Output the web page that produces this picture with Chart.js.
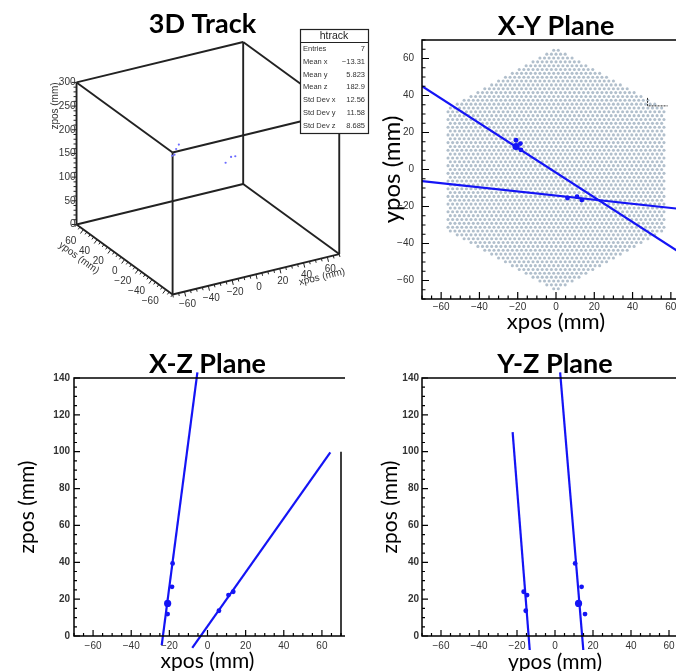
<!DOCTYPE html>
<html><head><meta charset="utf-8">
<script src="https://cdn.jsdelivr.net/npm/chart.js@4.4.0/dist/chart.umd.min.js"></script>
<style>
html,body{margin:0;padding:0;background:#fff;}
#wrap{position:relative;width:676px;height:671px;overflow:hidden;background:#fff;}
canvas{position:absolute;}
</style></head><body>
<div id="wrap">
<canvas id="c3d" width="405" height="335" style="left:0;top:0;"></canvas>
<canvas id="cxy" width="380" height="340" style="left:340px;top:0;"></canvas>
<canvas id="cxz" width="345" height="345" style="left:0;top:340px;"></canvas>
<canvas id="cyz" width="380" height="345" style="left:345px;top:340px;"></canvas>
</div>
<script>
// ---------------- data ----------------
const hitX = [-18.3, -18.6, -20.9, -20.9, 11.0, 13.5, 6.0];
const hitY = [10.6, 14.0, 12.4, 15.8, -14.7, -16.5, -15.4];
const hitZ = [39.4, 26.7, 17.7, 11.9, 22.2, 24.0, 13.7];
const trackZ0 = 160.5; // z offset of the hits in the 3D view

const xyTrackX = [[-70, 70], [-70, 70]];
const xyTrackY = [[45.0, -48.4], [-6.3, -21.9]];
const xzTrackX = [[-24.0, -5.3], [-8.0, 64.4]];
const xzTrackZ = [[-4.9, 143.1], [-6.5, 99.7]];
const yzTrackY = [[2.7, 14.9], [-22.3, -13.3]];
const yzTrackZ = [[143.1, -7.6], [110.6, -7.6]];

const markX = [47.8, 47.8, 58.3];
const markY = [38.7, 34.4, 34.4];

const planeTicks = [-60, -40, -20, 0, 20, 40, 60];
const zTicks = [0, 20, 40, 60, 80, 100, 120, 140];
const x3dTicks = [-60, -40, -20, 0, 20, 40, 60];
const y3dTicks = [-60, -40, -20, 0, 20, 40, 60];
const z3dTicks = [0, 50, 100, 150, 200, 250, 300];
const range3X = [-70, 70], range3Y = [-70, 70], range3Z = [0, 300];

const statName = 'htrack';
const statLabels = ['Entries', 'Mean x', 'Mean y', 'Mean z', 'Std Dev x', 'Std Dev y', 'Std Dev z'];
const statValues = ['7', '\u221213.31', '5.823', '182.9', '12.56', '11.58', '8.685'];

// detector geometry (hexagonal pixel array)
const cellPitch = 2.4, hexApothem = 57.5;

// ---------------- helpers ----------------
const BLUE = '#1414f5';
const fmt = v => String(v).replace('-', '\u2212');
const pts = (xs, ys) => xs.map((x, i) => ({x, y: ys[i]}));

const hexCells = [];
(function(){
  const s3 = Math.sqrt(3), rowStep = cellPitch * s3 / 2;
  const nRows = Math.ceil(hexApothem * 2 / s3 / rowStep);
  for (let j = -nRows; j <= nRows; j++) {
    const off = (Math.abs(j) % 2) * cellPitch / 2;
    for (let i = -40; i <= 40; i++) {
      const x = i * cellPitch + off, y = j * rowStep, e = 0.01;
      if (Math.abs(x) <= hexApothem + e && Math.abs(x * 0.5 + y * s3 / 2) <= hexApothem + e &&
          Math.abs(x * 0.5 - y * s3 / 2) <= hexApothem + e) hexCells.push({x, y});
    }
  }
})();

// ROOT-like frame with inward ticks
const rootFrame = {
  id: 'rootFrame',
  afterDraw(chart, args, o) {
    if (!o || !o.enabled) return;
    const {ctx, chartArea: a, scales: {x, y}} = chart;
    ctx.save();
    ctx.strokeStyle = '#000';
    ctx.lineWidth = o.lineWidth || 1.5;
    ctx.beginPath();
    ctx.moveTo(a.right + 20, a.top); ctx.lineTo(a.left, a.top);
    ctx.lineTo(a.left, a.bottom); ctx.lineTo(a.right + 20, a.bottom);
    if (o.rightTo !== undefined) {
      ctx.moveTo(a.right, a.bottom); ctx.lineTo(a.right, y.getPixelForValue(o.rightTo));
    }
    ctx.stroke();
    ctx.lineWidth = 1.2;
    ctx.beginPath();
    const tk = (scale, minor, major, horiz) => {
      for (let k = Math.ceil(scale.min / minor); k * minor <= scale.max + 1e-9; k++) {
        const v = k * minor, len = (Math.abs(v % major) < 1e-9) ? o.majorLen : o.minorLen;
        const p = scale.getPixelForValue(v);
        if (horiz) { ctx.moveTo(p, a.bottom); ctx.lineTo(p, a.bottom - len); }
        else { ctx.moveTo(a.left, p); ctx.lineTo(a.left + len, p); }
      }
    };
    tk(x, o.xMinor, o.xMajor, true);
    tk(y, o.yMinor, o.yMajor, false);
    ctx.stroke();
    ctx.restore();
  }
};

// 3D projection (front-bottom corner, axis vectors in panel pixels)
const P0 = {u: 172, v: 298}, EX = {u: 170, v: -41}, EY = {u: -98, v: -71}, EZ = {u: 0, v: -144};
function proj(x, y, z) {
  const a = (x - range3X[0]) / (range3X[1] - range3X[0]);
  const b = (y - range3Y[0]) / (range3Y[1] - range3Y[0]);
  const c = (z - range3Z[0]) / (range3Z[1] - range3Z[0]);
  return {x: P0.u + a * EX.u + b * EY.u + c * EZ.u, y: P0.v + a * EX.v + b * EY.v + c * EZ.v};
}

const draw3d = {
  id: 'draw3d',
  afterDraw(chart, args, o) {
    if (!o || !o.enabled) return;
    const ctx = chart.ctx, sx = chart.scales.x, sy = chart.scales.y;
    const P = (x, y, z) => { const p = proj(x, y, z); return [sx.getPixelForValue(p.x), sy.getPixelForValue(p.y)]; };
    ctx.save();
    ctx.strokeStyle = '#222'; ctx.lineWidth = 1;
    ctx.fillStyle = '#333';
    ctx.font = '10px "Liberation Sans", Arial, sans-serif';
    const [x0, x1] = range3X, [y0, y1] = range3Y, [z0, z1] = range3Z;
    ctx.beginPath();
    for (let z = z0; z <= z1; z += 10) {
      const [px, py] = P(x0, y1, z), len = z % 50 === 0 ? 5 : 3;
      ctx.moveTo(px, py); ctx.lineTo(px - len, py);
    }
    const nx = [41 / 174.9, 170 / 174.9];
    for (let x = x0; x <= x1; x += 5) {
      const [px, py] = P(x, y0, z0), len = x % 20 === 0 ? 5 : 3;
      ctx.moveTo(px, py); ctx.lineTo(px + nx[0] * len, py + nx[1] * len);
    }
    const ny = [-0.587, 0.81];
    for (let y = y0; y <= y1; y += 5) {
      const [px, py] = P(x0, y, z0), len = y % 20 === 0 ? 5 : 3;
      ctx.moveTo(px, py); ctx.lineTo(px + ny[0] * len, py + ny[1] * len);
    }
    ctx.stroke();
    ctx.textBaseline = 'middle';
    ctx.textAlign = 'right';
    z3dTicks.forEach(z => { const [px, py] = P(x0, y1, z); ctx.fillText(fmt(z), px - 1, py); });
    y3dTicks.forEach(y => { const [px, py] = P(x0, y, z0); ctx.fillText(fmt(y), px - 7, py + 12); });
    ctx.textAlign = 'center';
    x3dTicks.forEach(x => { const [px, py] = P(x, y0, z0); ctx.fillText(fmt(x), px + 3, py + 12.5); });
    const rotText = (t, cx, cy, ang) => { ctx.save(); ctx.translate(cx, cy); ctx.rotate(ang); ctx.fillText(t, 0, 0); ctx.restore(); };
    rotText('zpos (mm)', 55, 106, -Math.PI / 2);
    rotText('xpos (mm)', 322, 277, Math.atan2(-41, 170));
    rotText('ypos (mm)', 79, 258, Math.atan2(71, 98));
    // stats box
    const bx = 300, by = 29, bw = 68, bh = 104;
    ctx.fillStyle = '#fff'; ctx.fillRect(bx, by, bw, bh);
    ctx.strokeStyle = '#222'; ctx.lineWidth = 1.2; ctx.strokeRect(bx + 0.5, by + 0.5, bw, bh);
    ctx.beginPath(); ctx.moveTo(bx, by + 13.5); ctx.lineTo(bx + bw, by + 13.5); ctx.stroke();
    ctx.fillStyle = '#222';
    ctx.font = '10.5px "Liberation Sans", Arial, sans-serif';
    ctx.textAlign = 'center';
    ctx.fillText(statName, bx + bw / 2, by + 7);
    ctx.font = '7.5px "Liberation Sans", Arial, sans-serif';
    ctx.fillStyle = '#333';
    statLabels.forEach((l, i) => {
      const yy = by + 20 + i * 12.8;
      ctx.textAlign = 'left'; ctx.fillText(l, bx + 3, yy);
      ctx.textAlign = 'right'; ctx.fillText(statValues[i], bx + bw - 3, yy);
    });
    ctx.restore();
  }
};

Chart.register(rootFrame, draw3d);

const baseOpts = () => ({
  responsive: false, animation: false, events: [],
  plugins: {legend: {display: false}, tooltip: {enabled: false}}
});

const tickFont = (bold) => ({family: '"Liberation Sans", Arial, sans-serif', size: 10, weight: bold ? 'bold' : 'normal'});
const titleFont = {family: 'Lato', weight: 'bold', size: 27, lineHeight: 1};

function planeScale(ticks, min, max, fitFn, labelPad, title, titleSize, titlePad, bold) {
  return {
    type: 'linear', min, max,
    afterBuildTicks: s => { s.ticks = ticks.map(v => ({value: v})); },
    afterFit: fitFn,
    grid: {display: false, drawTicks: false},
    border: {display: false},
    ticks: {padding: labelPad, font: tickFont(bold), color: '#333', callback: fmt, maxRotation: 0, autoSkip: false},
    title: {display: true, text: title, font: {family: 'Lato', size: titleSize, lineHeight: 1}, color: '#000', padding: titlePad}
  };
}

function lineSet(xs, ys, clip) {
  return {data: pts(xs, ys), showLine: true, borderColor: BLUE, borderWidth: 2.2, pointRadius: 0, order: 2, clip: clip};
}
function hitSet(xs, ys) {
  return {data: pts(xs, ys), showLine: false, backgroundColor: BLUE, borderWidth: 0,
          pointRadius: c => c.dataIndex === 2 ? 3.6 : 2.4, order: 1, clip: false};
}

// ---------------- 3D Track ----------------
(function(){
  const edges = [];
  const X = range3X, Y = range3Y, Z = range3Z;
  const c = (i, j, k) => proj(X[i], Y[j], Z[k]);
  for (let j = 0; j < 2; j++) for (let k = 0; k < 2; k++) edges.push([c(0, j, k), c(1, j, k)]);
  for (let i = 0; i < 2; i++) for (let k = 0; k < 2; k++) edges.push([c(i, 0, k), c(i, 1, k)]);
  for (let i = 0; i < 2; i++) for (let j = 0; j < 2; j++) edges.push([c(i, j, 0), c(i, j, 1)]);
  const ds = edges.map(e => ({data: e, showLine: true, borderColor: '#222', borderWidth: 1.9, pointRadius: 0, clip: false, order: 3}));
  ds.push({data: hitX.map((x, i) => proj(x, hitY[i], hitZ[i] + trackZ0)), backgroundColor: '#6b6bff',
           borderWidth: 0, pointRadius: 1.1, order: 0, clip: false});
  const o = baseOpts();
  o.layout = {padding: 0};
  o.plugins.title = {display: true, text: '3D Track', fullSize: false, font: titleFont, color: '#000', padding: {top: 11, bottom: 2}};
  o.plugins.draw3d = {enabled: true};
  o.scales = {x: {type: 'linear', display: false, min: 0, max: 405},
              y: {type: 'linear', display: false, min: 40, max: 335, reverse: true}};
  new Chart(document.getElementById('c3d'), {type: 'scatter', data: {datasets: ds}, options: o});
})();

// ---------------- X-Y Plane ----------------
(function(){
  const ds = [
    lineSet(xyTrackX[0], xyTrackY[0], true),
    lineSet(xyTrackX[1], xyTrackY[1], true),
    hitSet(hitX, hitY),
    {data: pts(markX, markY), showLine: true, borderColor: '#333', borderWidth: 1, borderDash: [2, 1], pointRadius: 0, order: 2},
    {data: hexCells, backgroundColor: '#b1bfcc', borderWidth: 0, pointRadius: 1.55, order: 10}
  ];
  const o = baseOpts();
  o.layout = {padding: {left: 0, right: 30, top: 0, bottom: 0}};
  o.plugins.title = {display: true, text: 'X-Y Plane', fullSize: false, font: titleFont, color: '#000', padding: {top: 13, bottom: 0}};
  o.plugins.rootFrame = {enabled: true, majorLen: 7, minorLen: 3.5, xMinor: 5, xMajor: 20, yMinor: 5, yMajor: 20};
  o.scales = {
    x: planeScale(planeTicks, -70, 70, s => { s.height = 41; }, 2, 'xpos (mm)', 22, {top: 0, bottom: 7}, false),
    y: planeScale(planeTicks, -70, 70, s => { s.width = 82; }, 8, 'ypos (mm)', 24, {top: 40, bottom: 0}, false)
  };
  new Chart(document.getElementById('cxy'), {type: 'scatter', data: {datasets: ds}, options: o});
})();

// ---------------- X-Z Plane ----------------
(function(){
  const ds = [
    lineSet(xzTrackX[0], xzTrackZ[0], false),
    lineSet(xzTrackX[1], xzTrackZ[1], false),
    hitSet(hitX, hitZ)
  ];
  const o = baseOpts();
  o.layout = {padding: {left: 0, right: 4, top: 0, bottom: 0}};
  o.plugins.title = {display: true, text: 'X-Z Plane', fullSize: false, font: titleFont, color: '#000', padding: {top: 11, bottom: 0}};
  o.plugins.rootFrame = {enabled: true, majorLen: 6, minorLen: 3, xMinor: 5, xMajor: 20, yMinor: 5, yMajor: 20, rightTo: 100};
  o.scales = {
    x: planeScale(planeTicks, -70, 70, s => { s.height = 49; }, 4, 'xpos (mm)', 21, {top: 0, bottom: 13}, false),
    y: planeScale(zTicks, 0, 140, s => { s.width = 74; }, 4, 'zpos (mm)', 21, {top: 17, bottom: 0}, true)
  };
  new Chart(document.getElementById('cxz'), {type: 'scatter', data: {datasets: ds}, options: o});
})();

// ---------------- Y-Z Plane ----------------
(function(){
  const ds = [
    lineSet(yzTrackY[0], yzTrackZ[0], false),
    lineSet(yzTrackY[1], yzTrackZ[1], false),
    hitSet(hitY, hitZ)
  ];
  const o = baseOpts();
  o.layout = {padding: {left: 0, right: 37, top: 0, bottom: 0}};
  o.plugins.title = {display: true, text: 'Y-Z Plane', fullSize: false, font: titleFont, color: '#000', padding: {top: 11, bottom: 0}};
  o.plugins.rootFrame = {enabled: true, majorLen: 6, minorLen: 3, xMinor: 5, xMajor: 20, yMinor: 5, yMajor: 20};
  o.scales = {
    x: planeScale(planeTicks, -70, 70, s => { s.height = 49; }, 4, 'ypos (mm)', 21, {top: 0, bottom: 12.5}, false),
    y: planeScale(zTicks, 0, 140, s => { s.width = 77; }, 3, 'zpos (mm)', 21, {top: 34.5, bottom: 0}, true)
  };
  new Chart(document.getElementById('cyz'), {type: 'scatter', data: {datasets: ds}, options: o});
})();
</script>
</body></html>
